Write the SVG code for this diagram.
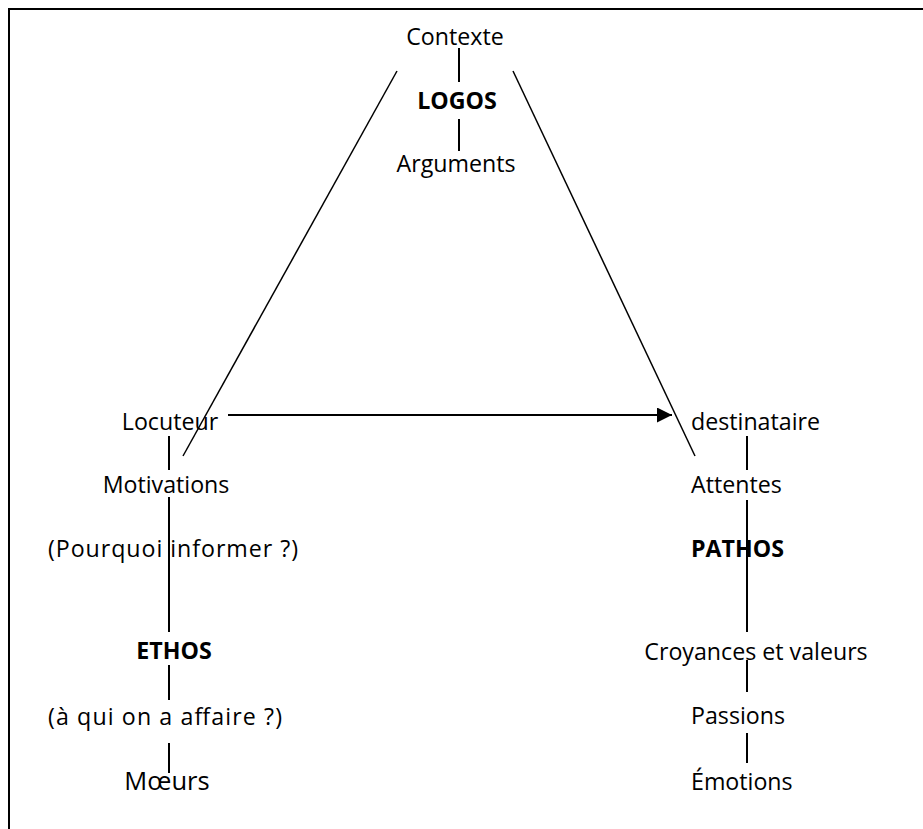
<svg xmlns="http://www.w3.org/2000/svg" width="923" height="829" viewBox="0 0 923 829">
<style>
text{font-family:"Open Sans","Liberation Sans",sans-serif;font-size:23.2px;fill:#000}
.b{font-weight:bold}
.m{text-anchor:middle}
.c{stroke:#000;stroke-width:1.5;fill:none}
.v{stroke:#000;stroke-width:2;fill:none}
</style>
<defs>
<marker id="ah" viewBox="0 0 10 10" refX="10" refY="5" markerWidth="15" markerHeight="15" markerUnits="userSpaceOnUse" orient="auto">
<path d="M0,0 L10,5 L0,10 Z" fill="#000"/>
</marker>
</defs>
<g id="frame">
<path d="M8,9 H923 M9,8 V829" stroke="#000" stroke-width="2" fill="none"/>
</g>
<g id="connectors">
<line class="c" x1="397" y1="71" x2="183" y2="456"/>
<line class="c" x1="513" y1="71" x2="695" y2="456"/>
<line class="v" x1="228" y1="415" x2="672" y2="415" marker-end="url(#ah)"/>
<line class="v" x1="459" y1="48" x2="459" y2="82"/>
<line class="v" x1="459" y1="119" x2="459" y2="151"/>
<line class="v" x1="169" y1="436" x2="169" y2="470"/>
<line class="v" x1="169" y1="497" x2="169" y2="632"/>
<line class="v" x1="169" y1="665" x2="169" y2="700"/>
<line class="v" x1="169" y1="743" x2="169" y2="773"/>
<line class="v" x1="747" y1="436" x2="747" y2="470"/>
<line class="v" x1="747" y1="500" x2="747" y2="632"/>
<line class="v" x1="747" y1="660" x2="747" y2="692"/>
<line class="v" x1="747" y1="733" x2="747" y2="763"/>
</g>
<g id="contexte"><text class="m" x="455" y="45">Contexte</text></g>
<g id="logos"><text class="m b" x="457" y="109">LOGOS</text></g>
<g id="arguments"><text class="m" x="456" y="172">Arguments</text></g>
<g id="locuteur"><text class="m" x="170" y="430">Locuteur</text></g>
<g id="motivations"><text class="m" x="166" y="493">Motivations</text></g>
<g id="pourquoi"><text x="48" y="557" textLength="250" lengthAdjust="spacing">(Pourquoi informer ?)</text></g>
<g id="ethos"><text class="m b" x="174" y="659">ETHOS</text></g>
<g id="aqui"><text x="48" y="725" textLength="234" lengthAdjust="spacing">(à qui on a affaire ?)</text></g>
<g id="moeurs"><text class="m" x="167" y="790" style="font-size:25.5px">Mœurs</text></g>
<g id="destinataire"><text x="691" y="430">destinataire</text></g>
<g id="attentes"><text x="691" y="493">Attentes</text></g>
<g id="pathos"><text class="b" x="691" y="557">PATHOS</text></g>
<g id="croyances"><text class="m" x="756" y="660">Croyances et valeurs</text></g>
<g id="passions"><text x="691" y="724">Passions</text></g>
<g id="emotions"><text x="691" y="790">Émotions</text></g>
</svg>
